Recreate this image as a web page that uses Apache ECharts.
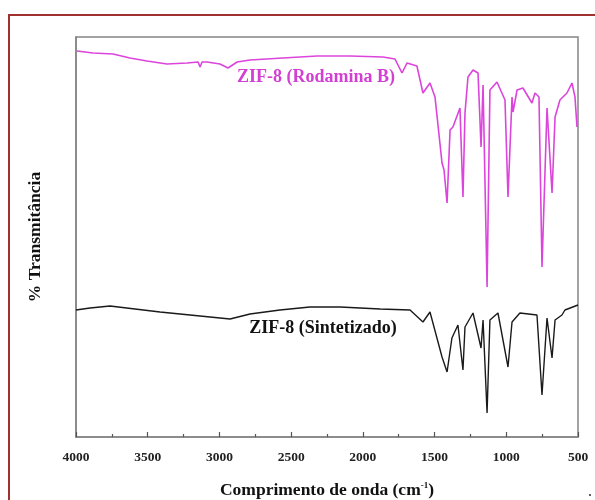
<!DOCTYPE html>
<html>
<head>
<meta charset="utf-8">
<script src="https://cdn.jsdelivr.net/npm/echarts@6/dist/echarts.min.js"></script>
<style>
  html, body { margin: 0; padding: 0; background: #fff; }
  #chart { width: 595px; height: 500px; }
</style>
</head>
<body>
<div id="chart"></div>
<script>
// FTIR spectra of ZIF-8: wavenumber (cm^-1) vs. relative transmittance (offset, arbitrary units)
const xTicks = [4000, 3500, 3000, 2500, 2000, 1500, 1000, 500];

const rodaminaWave = [3993, 3881, 3742, 3624, 3505, 3366, 3226, 3149, 3135, 3121, 3087, 2996, 2940, 2877, 2787,
  2557, 2320, 2090, 1860, 1776, 1727, 1692, 1623, 1581, 1532, 1497, 1448, 1434, 1413, 1392, 1372, 1323, 1302,
  1288, 1267, 1232, 1197, 1176, 1162, 1134, 1114, 1065, 1009, 988, 960, 953, 925, 884, 821, 800, 772, 751, 716,
  681, 660, 626, 577, 542, 521, 507];
const rodaminaT = [96.5, 96, 95.75, 94.75, 94, 93.25, 93.5, 93.75, 92.5, 93.75, 93.75, 93.25, 92.25, 93.75, 94.25,
  94.75, 95.25, 95.25, 95, 94.5, 91, 93.5, 92.75, 86, 88.5, 85, 68.5, 66.75, 58.5, 76.75, 77.5, 82.25, 60,
  81, 90, 91.75, 91, 72.5, 88, 37.5, 86.75, 88.75, 84.25, 60, 85, 81.25, 86.75, 87.25, 83.5, 86, 85, 42.5, 82.25,
  61, 80, 84.25, 86, 88.5, 85, 77.5];

const sinteWave = [4000, 3902, 3763, 3589, 3414, 3135, 2926, 2787, 2578, 2369, 2159, 1880, 1671, 1581, 1532,
  1448, 1413, 1379, 1337, 1302, 1288, 1232, 1176, 1162, 1134, 1114, 1058, 988, 960, 905, 786, 751, 716, 681,
  660, 612, 591, 500];
const sinteT = [31.75, 32.25, 32.75, 32, 31.25, 30.25, 29.5, 30.75, 31.75, 32.5, 32.5, 32, 31.75, 28.75, 31.25,
  20, 16.25, 24.75, 28, 16.75, 27.5, 31, 22.25, 29.25, 6, 29.25, 31, 17.5, 28.75, 31, 30.5, 10.5, 29.75, 19.75,
  29.25, 30.5, 31.75, 33];

const seriesNames = ['ZIF-8 (Rodamina B)', 'ZIF-8 (Sintetizado)'];
const seriesColors = ['#dc45dc', '#1a1a1a'];
const labelAnchors = [[2327, 90], [2278, 27.25]];

const serif = '"Liberation Serif", "DejaVu Serif", serif';

const pairs = (xs, ys) => xs.map((x, i) => [x, ys[i]]);

const chart = echarts.init(document.getElementById('chart'), null, { renderer: 'canvas' });

chart.setOption({
  backgroundColor: '#ffffff',
  animation: false,
  grid: {
    left: 76, right: 17, top: 37, bottom: 63, outerBoundsMode: 'none',
    show: true, borderColor: '#858585', borderWidth: 1.5, backgroundColor: 'transparent'
  },
  xAxis: {
    type: 'value', inverse: true, min: 500, max: 4000, interval: 500,
    name: 'Comprimento de onda (cm{sup|-1})', nameLocation: 'middle', nameGap: 44,
    nameTextStyle: {
      fontFamily: serif, fontWeight: 'bold', fontSize: 17.5, color: '#111',
      rich: { sup: { fontFamily: serif, fontWeight: 'bold', fontSize: 9, color: '#111', verticalAlign: 'top', padding: [0, 0, 10, 0] } }
    },
    axisLine: { show: true, lineStyle: { color: '#858585', width: 1.5 } },
    axisTick: { show: true, inside: true, length: 5, lineStyle: { color: '#555', width: 1.2 } },
    minorTick: { show: true, splitNumber: 2, length: 3, lineStyle: { color: '#555', width: 1.2 } },
    splitLine: { show: false },
    axisLabel: {
      margin: 14, fontFamily: serif, fontWeight: 'bold', fontSize: 13.5, color: '#222',
      formatter: v => (xTicks.includes(v) ? String(v) : '')
    }
  },
  yAxis: {
    type: 'value', min: 0, max: 100,
    name: '% Transmitância', nameLocation: 'middle', nameGap: 32, nameRotate: 90,
    nameTextStyle: { fontFamily: serif, fontWeight: 'bold', fontSize: 17.5, color: '#111' },
    axisLine: { show: true, lineStyle: { color: '#858585', width: 1.5 } },
    axisTick: { show: false }, axisLabel: { show: false }, splitLine: { show: false }
  },
  series: [
    { name: seriesNames[0], type: 'line', data: pairs(rodaminaWave, rodaminaT), showSymbol: false,
      lineStyle: { color: seriesColors[0], width: 1.6 }, itemStyle: { color: seriesColors[0] } },
    { name: seriesNames[1], type: 'line', data: pairs(sinteWave, sinteT), showSymbol: false,
      lineStyle: { color: seriesColors[1], width: 1.4 }, itemStyle: { color: seriesColors[1] } }
  ]
});

// Series captions anchored in data coordinates, plus the outer frame
const captions = seriesNames.map((name, i) => {
  const p = chart.convertToPixel({ gridIndex: 0 }, labelAnchors[i]);
  return {
    type: 'text', x: p[0], y: p[1],
    style: { text: name, fill: i === 0 ? '#d23fd2' : '#111', font: 'bold 18px ' + serif, align: 'center', verticalAlign: 'middle' }
  };
});

chart.setOption({
  graphic: [
    { type: 'rect', shape: { x: 9, y: 15, width: 600, height: 500 }, style: { fill: 'none', stroke: '#a1312f', lineWidth: 2 } },
    { type: 'text', x: 590, y: 493, style: { text: '.', fill: '#333', font: 'bold 12px ' + serif, align: 'center', verticalAlign: 'middle' } },
    ...captions
  ]
});
</script>
</body>
</html>
